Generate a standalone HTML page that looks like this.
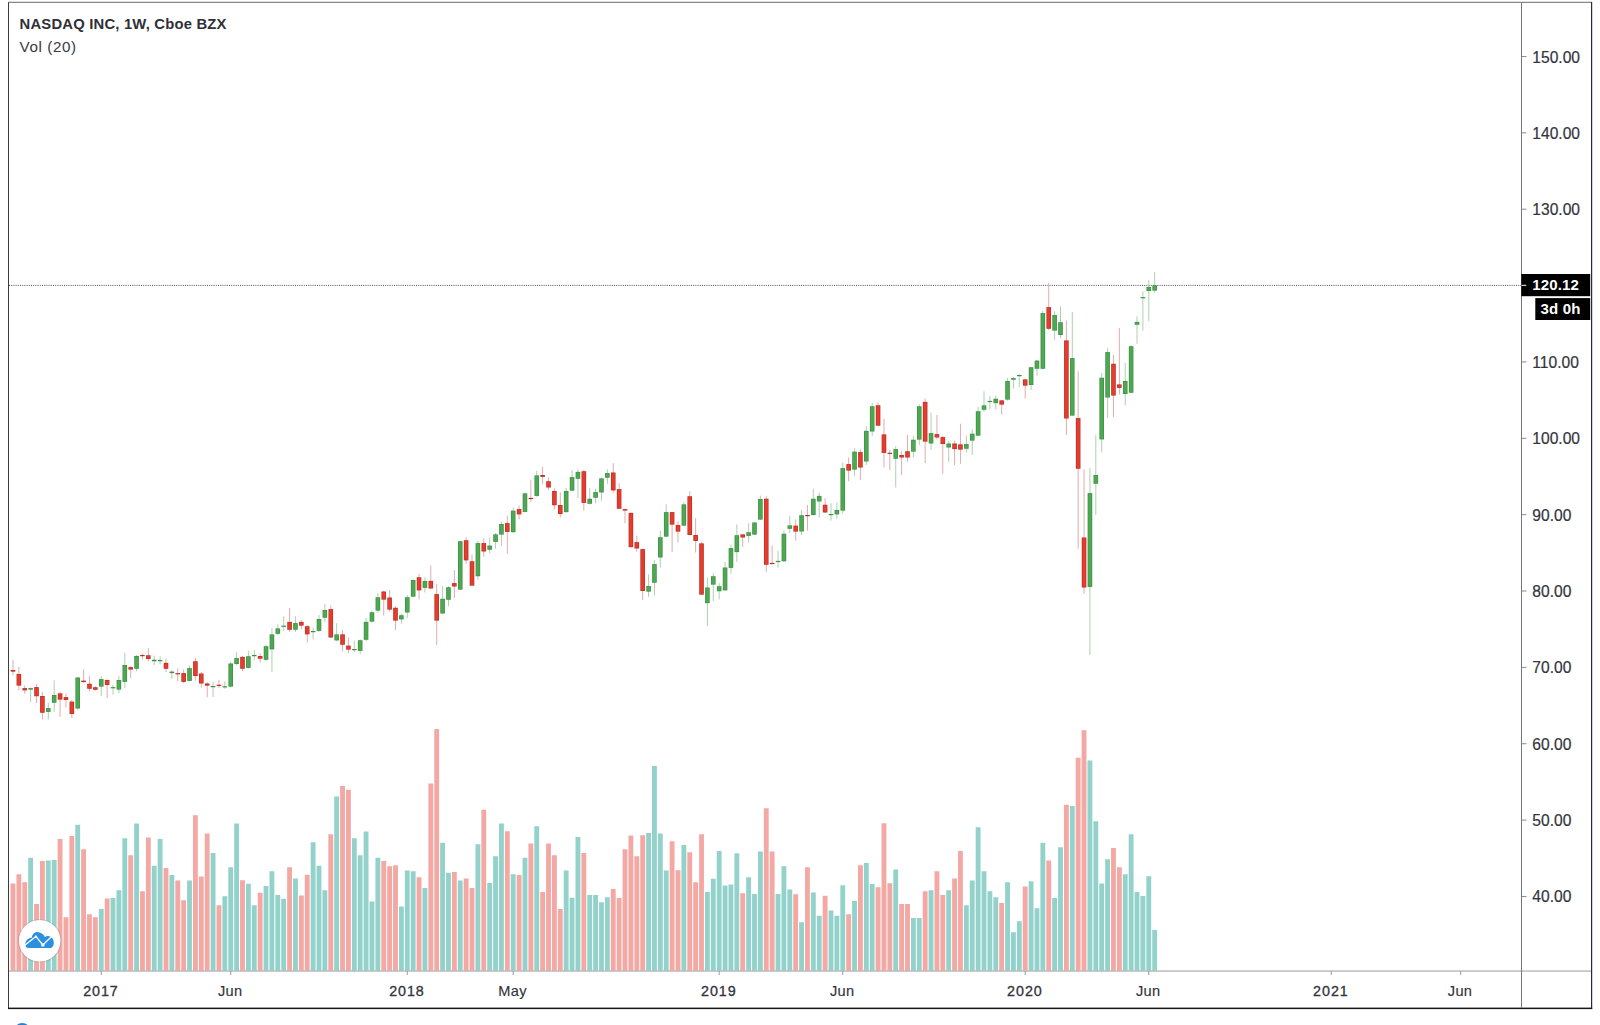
<!DOCTYPE html>
<html lang="en"><head><meta charset="utf-8"><title>NASDAQ INC, 1W, Cboe BZX</title>
<style>
html,body{margin:0;padding:0;background:#fff;}
body{width:1600px;height:1025px;overflow:hidden;position:relative;font-family:"Liberation Sans",sans-serif;}
svg{position:absolute;left:0;top:0;display:block;}
text{font-family:"Liberation Sans",sans-serif;}
.pl{font-size:15.6px;fill:#34343c;letter-spacing:0px;stroke:#34343c;stroke-width:0.2px;}
.tl{font-size:14.6px;fill:#33333b;text-anchor:middle;letter-spacing:0.3px;stroke:#33333b;stroke-width:0.15px;}
.yr{font-size:14.3px;stroke:#33333b;stroke-width:0.3px;letter-spacing:0.95px;}
.ttl{font-size:14.8px;font-weight:bold;fill:#2f3038;letter-spacing:0.2px;}
.sub{font-size:15.2px;fill:#3a3a42;letter-spacing:0.6px;}
.bx{font-size:15px;font-weight:bold;fill:#fff;letter-spacing:0.15px;}
</style></head><body>
<svg width="1600" height="1025" viewBox="0 0 1600 1025">
<rect x="0" y="0" width="1600" height="1025" fill="#ffffff"/>
<g id="volume">
<rect x="10.55" y="883.50" width="4.85" height="87.50" fill="#f4a8a4"/>
<rect x="16.43" y="874.25" width="4.85" height="96.75" fill="#f4a8a4"/>
<rect x="22.32" y="882.25" width="4.85" height="88.75" fill="#f4a8a4"/>
<rect x="28.21" y="857.75" width="4.85" height="113.25" fill="#92d2cb"/>
<rect x="34.09" y="904.00" width="4.85" height="67.00" fill="#f4a8a4"/>
<rect x="39.98" y="861.00" width="4.85" height="110.00" fill="#f4a8a4"/>
<rect x="45.86" y="860.50" width="4.85" height="110.50" fill="#92d2cb"/>
<rect x="51.75" y="860.00" width="4.85" height="111.00" fill="#92d2cb"/>
<rect x="57.63" y="839.00" width="4.85" height="132.00" fill="#f4a8a4"/>
<rect x="63.52" y="917.25" width="4.85" height="53.75" fill="#f4a8a4"/>
<rect x="69.40" y="836.00" width="4.85" height="135.00" fill="#f4a8a4"/>
<rect x="75.28" y="824.75" width="4.85" height="146.25" fill="#92d2cb"/>
<rect x="81.17" y="849.25" width="4.85" height="121.75" fill="#f4a8a4"/>
<rect x="87.05" y="914.25" width="4.85" height="56.75" fill="#f4a8a4"/>
<rect x="92.94" y="917.25" width="4.85" height="53.75" fill="#f4a8a4"/>
<rect x="98.82" y="909.00" width="4.85" height="62.00" fill="#92d2cb"/>
<rect x="104.71" y="898.50" width="4.85" height="72.50" fill="#f4a8a4"/>
<rect x="110.59" y="898.00" width="4.85" height="73.00" fill="#92d2cb"/>
<rect x="116.48" y="890.25" width="4.85" height="80.75" fill="#92d2cb"/>
<rect x="122.36" y="838.25" width="4.85" height="132.75" fill="#92d2cb"/>
<rect x="128.25" y="855.25" width="4.85" height="115.75" fill="#f4a8a4"/>
<rect x="134.13" y="823.50" width="4.85" height="147.50" fill="#92d2cb"/>
<rect x="140.02" y="891.25" width="4.85" height="79.75" fill="#f4a8a4"/>
<rect x="145.90" y="837.50" width="4.85" height="133.50" fill="#f4a8a4"/>
<rect x="151.79" y="865.75" width="4.85" height="105.25" fill="#92d2cb"/>
<rect x="157.67" y="839.00" width="4.85" height="132.00" fill="#92d2cb"/>
<rect x="163.56" y="868.00" width="4.85" height="103.00" fill="#f4a8a4"/>
<rect x="169.44" y="875.00" width="4.85" height="96.00" fill="#92d2cb"/>
<rect x="175.33" y="880.50" width="4.85" height="90.50" fill="#f4a8a4"/>
<rect x="181.21" y="900.25" width="4.85" height="70.75" fill="#f4a8a4"/>
<rect x="187.10" y="880.50" width="4.85" height="90.50" fill="#92d2cb"/>
<rect x="192.98" y="815.25" width="4.85" height="155.75" fill="#f4a8a4"/>
<rect x="198.87" y="876.50" width="4.85" height="94.50" fill="#f4a8a4"/>
<rect x="204.75" y="833.50" width="4.85" height="137.50" fill="#f4a8a4"/>
<rect x="210.64" y="853.00" width="4.85" height="118.00" fill="#92d2cb"/>
<rect x="216.52" y="905.25" width="4.85" height="65.75" fill="#f4a8a4"/>
<rect x="222.41" y="896.25" width="4.85" height="74.75" fill="#92d2cb"/>
<rect x="228.29" y="867.25" width="4.85" height="103.75" fill="#92d2cb"/>
<rect x="234.18" y="823.50" width="4.85" height="147.50" fill="#92d2cb"/>
<rect x="240.06" y="880.25" width="4.85" height="90.75" fill="#f4a8a4"/>
<rect x="245.95" y="883.75" width="4.85" height="87.25" fill="#92d2cb"/>
<rect x="251.83" y="905.25" width="4.85" height="65.75" fill="#92d2cb"/>
<rect x="257.72" y="892.75" width="4.85" height="78.25" fill="#f4a8a4"/>
<rect x="263.60" y="886.00" width="4.85" height="85.00" fill="#92d2cb"/>
<rect x="269.49" y="871.25" width="4.85" height="99.75" fill="#92d2cb"/>
<rect x="275.38" y="895.00" width="4.85" height="76.00" fill="#92d2cb"/>
<rect x="281.26" y="898.75" width="4.85" height="72.25" fill="#92d2cb"/>
<rect x="287.14" y="867.25" width="4.85" height="103.75" fill="#f4a8a4"/>
<rect x="293.03" y="878.50" width="4.85" height="92.50" fill="#92d2cb"/>
<rect x="298.92" y="895.50" width="4.85" height="75.50" fill="#f4a8a4"/>
<rect x="304.80" y="874.75" width="4.85" height="96.25" fill="#f4a8a4"/>
<rect x="310.69" y="842.25" width="4.85" height="128.75" fill="#92d2cb"/>
<rect x="316.57" y="865.75" width="4.85" height="105.25" fill="#92d2cb"/>
<rect x="322.45" y="890.25" width="4.85" height="80.75" fill="#92d2cb"/>
<rect x="328.34" y="834.25" width="4.85" height="136.75" fill="#f4a8a4"/>
<rect x="334.23" y="796.50" width="4.85" height="174.50" fill="#92d2cb"/>
<rect x="340.11" y="786.00" width="4.85" height="185.00" fill="#f4a8a4"/>
<rect x="346.00" y="789.75" width="4.85" height="181.25" fill="#f4a8a4"/>
<rect x="351.88" y="838.25" width="4.85" height="132.75" fill="#92d2cb"/>
<rect x="357.76" y="855.25" width="4.85" height="115.75" fill="#92d2cb"/>
<rect x="363.65" y="831.50" width="4.85" height="139.50" fill="#92d2cb"/>
<rect x="369.54" y="901.50" width="4.85" height="69.50" fill="#92d2cb"/>
<rect x="375.42" y="857.75" width="4.85" height="113.25" fill="#92d2cb"/>
<rect x="381.31" y="861.00" width="4.85" height="110.00" fill="#f4a8a4"/>
<rect x="387.19" y="866.25" width="4.85" height="104.75" fill="#f4a8a4"/>
<rect x="393.07" y="865.25" width="4.85" height="105.75" fill="#f4a8a4"/>
<rect x="398.96" y="906.50" width="4.85" height="64.50" fill="#92d2cb"/>
<rect x="404.84" y="870.50" width="4.85" height="100.50" fill="#92d2cb"/>
<rect x="410.73" y="871.25" width="4.85" height="99.75" fill="#92d2cb"/>
<rect x="416.62" y="877.25" width="4.85" height="93.75" fill="#f4a8a4"/>
<rect x="422.50" y="888.00" width="4.85" height="83.00" fill="#92d2cb"/>
<rect x="428.38" y="783.50" width="4.85" height="187.50" fill="#f4a8a4"/>
<rect x="434.27" y="729.00" width="4.85" height="242.00" fill="#f4a8a4"/>
<rect x="440.15" y="842.75" width="4.85" height="128.25" fill="#92d2cb"/>
<rect x="446.04" y="872.75" width="4.85" height="98.25" fill="#92d2cb"/>
<rect x="451.93" y="872.00" width="4.85" height="99.00" fill="#f4a8a4"/>
<rect x="457.81" y="880.50" width="4.85" height="90.50" fill="#92d2cb"/>
<rect x="463.69" y="878.50" width="4.85" height="92.50" fill="#f4a8a4"/>
<rect x="469.58" y="888.00" width="4.85" height="83.00" fill="#f4a8a4"/>
<rect x="475.46" y="844.25" width="4.85" height="126.75" fill="#92d2cb"/>
<rect x="481.35" y="809.75" width="4.85" height="161.25" fill="#f4a8a4"/>
<rect x="487.24" y="883.00" width="4.85" height="88.00" fill="#92d2cb"/>
<rect x="493.12" y="856.25" width="4.85" height="114.75" fill="#92d2cb"/>
<rect x="499.00" y="823.50" width="4.85" height="147.50" fill="#92d2cb"/>
<rect x="504.89" y="831.25" width="4.85" height="139.75" fill="#f4a8a4"/>
<rect x="510.77" y="874.25" width="4.85" height="96.75" fill="#92d2cb"/>
<rect x="516.66" y="875.00" width="4.85" height="96.00" fill="#f4a8a4"/>
<rect x="522.55" y="857.75" width="4.85" height="113.25" fill="#92d2cb"/>
<rect x="528.43" y="843.50" width="4.85" height="127.50" fill="#f4a8a4"/>
<rect x="534.32" y="826.25" width="4.85" height="144.75" fill="#92d2cb"/>
<rect x="540.20" y="892.00" width="4.85" height="79.00" fill="#f4a8a4"/>
<rect x="546.09" y="843.50" width="4.85" height="127.50" fill="#f4a8a4"/>
<rect x="551.97" y="855.25" width="4.85" height="115.75" fill="#f4a8a4"/>
<rect x="557.86" y="909.00" width="4.85" height="62.00" fill="#f4a8a4"/>
<rect x="563.74" y="870.50" width="4.85" height="100.50" fill="#92d2cb"/>
<rect x="569.62" y="897.75" width="4.85" height="73.25" fill="#92d2cb"/>
<rect x="575.51" y="837.00" width="4.85" height="134.00" fill="#92d2cb"/>
<rect x="581.40" y="853.00" width="4.85" height="118.00" fill="#f4a8a4"/>
<rect x="587.28" y="895.00" width="4.85" height="76.00" fill="#92d2cb"/>
<rect x="593.17" y="895.00" width="4.85" height="76.00" fill="#92d2cb"/>
<rect x="599.05" y="902.25" width="4.85" height="68.75" fill="#92d2cb"/>
<rect x="604.94" y="897.25" width="4.85" height="73.75" fill="#92d2cb"/>
<rect x="610.82" y="889.00" width="4.85" height="82.00" fill="#f4a8a4"/>
<rect x="616.71" y="898.00" width="4.85" height="73.00" fill="#f4a8a4"/>
<rect x="622.59" y="849.25" width="4.85" height="121.75" fill="#f4a8a4"/>
<rect x="628.48" y="835.50" width="4.85" height="135.50" fill="#f4a8a4"/>
<rect x="634.36" y="856.25" width="4.85" height="114.75" fill="#f4a8a4"/>
<rect x="640.25" y="835.25" width="4.85" height="135.75" fill="#f4a8a4"/>
<rect x="646.13" y="833.00" width="4.85" height="138.00" fill="#92d2cb"/>
<rect x="652.02" y="766.00" width="4.85" height="205.00" fill="#92d2cb"/>
<rect x="657.90" y="833.50" width="4.85" height="137.50" fill="#92d2cb"/>
<rect x="663.79" y="870.50" width="4.85" height="100.50" fill="#92d2cb"/>
<rect x="669.67" y="841.25" width="4.85" height="129.75" fill="#f4a8a4"/>
<rect x="675.56" y="870.25" width="4.85" height="100.75" fill="#f4a8a4"/>
<rect x="681.44" y="845.00" width="4.85" height="126.00" fill="#92d2cb"/>
<rect x="687.33" y="852.25" width="4.85" height="118.75" fill="#f4a8a4"/>
<rect x="693.21" y="882.25" width="4.85" height="88.75" fill="#f4a8a4"/>
<rect x="699.10" y="834.25" width="4.85" height="136.75" fill="#f4a8a4"/>
<rect x="704.98" y="892.00" width="4.85" height="79.00" fill="#92d2cb"/>
<rect x="710.87" y="878.75" width="4.85" height="92.25" fill="#92d2cb"/>
<rect x="716.75" y="851.00" width="4.85" height="120.00" fill="#92d2cb"/>
<rect x="722.63" y="885.50" width="4.85" height="85.50" fill="#92d2cb"/>
<rect x="728.52" y="884.50" width="4.85" height="86.50" fill="#92d2cb"/>
<rect x="734.41" y="853.25" width="4.85" height="117.75" fill="#92d2cb"/>
<rect x="740.29" y="893.25" width="4.85" height="77.75" fill="#f4a8a4"/>
<rect x="746.18" y="877.25" width="4.85" height="93.75" fill="#92d2cb"/>
<rect x="752.06" y="894.00" width="4.85" height="77.00" fill="#92d2cb"/>
<rect x="757.95" y="851.50" width="4.85" height="119.50" fill="#92d2cb"/>
<rect x="763.83" y="808.25" width="4.85" height="162.75" fill="#f4a8a4"/>
<rect x="769.72" y="851.50" width="4.85" height="119.50" fill="#f4a8a4"/>
<rect x="775.60" y="894.00" width="4.85" height="77.00" fill="#92d2cb"/>
<rect x="781.49" y="866.25" width="4.85" height="104.75" fill="#92d2cb"/>
<rect x="787.37" y="889.50" width="4.85" height="81.50" fill="#92d2cb"/>
<rect x="793.25" y="894.25" width="4.85" height="76.75" fill="#f4a8a4"/>
<rect x="799.14" y="922.25" width="4.85" height="48.75" fill="#92d2cb"/>
<rect x="805.03" y="867.25" width="4.85" height="103.75" fill="#f4a8a4"/>
<rect x="810.91" y="892.50" width="4.85" height="78.50" fill="#92d2cb"/>
<rect x="816.80" y="915.75" width="4.85" height="55.25" fill="#92d2cb"/>
<rect x="822.68" y="895.75" width="4.85" height="75.25" fill="#f4a8a4"/>
<rect x="828.57" y="910.50" width="4.85" height="60.50" fill="#92d2cb"/>
<rect x="834.45" y="915.75" width="4.85" height="55.25" fill="#92d2cb"/>
<rect x="840.34" y="885.25" width="4.85" height="85.75" fill="#92d2cb"/>
<rect x="846.22" y="914.25" width="4.85" height="56.75" fill="#f4a8a4"/>
<rect x="852.11" y="901.00" width="4.85" height="70.00" fill="#92d2cb"/>
<rect x="857.99" y="865.25" width="4.85" height="105.75" fill="#f4a8a4"/>
<rect x="863.88" y="863.00" width="4.85" height="108.00" fill="#92d2cb"/>
<rect x="869.76" y="884.00" width="4.85" height="87.00" fill="#92d2cb"/>
<rect x="875.64" y="887.25" width="4.85" height="83.75" fill="#f4a8a4"/>
<rect x="881.53" y="823.25" width="4.85" height="147.75" fill="#f4a8a4"/>
<rect x="887.42" y="883.25" width="4.85" height="87.75" fill="#f4a8a4"/>
<rect x="893.30" y="869.50" width="4.85" height="101.50" fill="#92d2cb"/>
<rect x="899.19" y="904.00" width="4.85" height="67.00" fill="#f4a8a4"/>
<rect x="905.07" y="904.00" width="4.85" height="67.00" fill="#f4a8a4"/>
<rect x="910.96" y="918.00" width="4.85" height="53.00" fill="#92d2cb"/>
<rect x="916.84" y="918.00" width="4.85" height="53.00" fill="#92d2cb"/>
<rect x="922.73" y="891.25" width="4.85" height="79.75" fill="#f4a8a4"/>
<rect x="928.61" y="890.25" width="4.85" height="80.75" fill="#92d2cb"/>
<rect x="934.50" y="871.25" width="4.85" height="99.75" fill="#f4a8a4"/>
<rect x="940.38" y="895.00" width="4.85" height="76.00" fill="#f4a8a4"/>
<rect x="946.26" y="890.25" width="4.85" height="80.75" fill="#92d2cb"/>
<rect x="952.15" y="878.50" width="4.85" height="92.50" fill="#f4a8a4"/>
<rect x="958.04" y="851.00" width="4.85" height="120.00" fill="#f4a8a4"/>
<rect x="963.92" y="905.25" width="4.85" height="65.75" fill="#92d2cb"/>
<rect x="969.81" y="880.50" width="4.85" height="90.50" fill="#92d2cb"/>
<rect x="975.69" y="827.25" width="4.85" height="143.75" fill="#92d2cb"/>
<rect x="981.58" y="871.25" width="4.85" height="99.75" fill="#92d2cb"/>
<rect x="987.46" y="891.25" width="4.85" height="79.75" fill="#92d2cb"/>
<rect x="993.35" y="897.25" width="4.85" height="73.75" fill="#92d2cb"/>
<rect x="999.23" y="903.00" width="4.85" height="68.00" fill="#f4a8a4"/>
<rect x="1005.12" y="882.25" width="4.85" height="88.75" fill="#92d2cb"/>
<rect x="1011.00" y="932.25" width="4.85" height="38.75" fill="#92d2cb"/>
<rect x="1016.88" y="921.25" width="4.85" height="49.75" fill="#92d2cb"/>
<rect x="1022.77" y="886.50" width="4.85" height="84.50" fill="#f4a8a4"/>
<rect x="1028.65" y="881.25" width="4.85" height="89.75" fill="#92d2cb"/>
<rect x="1034.54" y="908.25" width="4.85" height="62.75" fill="#92d2cb"/>
<rect x="1040.42" y="842.75" width="4.85" height="128.25" fill="#92d2cb"/>
<rect x="1046.31" y="860.50" width="4.85" height="110.50" fill="#f4a8a4"/>
<rect x="1052.19" y="898.00" width="4.85" height="73.00" fill="#92d2cb"/>
<rect x="1058.08" y="847.25" width="4.85" height="123.75" fill="#92d2cb"/>
<rect x="1063.96" y="804.75" width="4.85" height="166.25" fill="#f4a8a4"/>
<rect x="1069.85" y="806.00" width="4.85" height="165.00" fill="#92d2cb"/>
<rect x="1075.73" y="757.75" width="4.85" height="213.25" fill="#f4a8a4"/>
<rect x="1081.62" y="730.25" width="4.85" height="240.75" fill="#f4a8a4"/>
<rect x="1087.50" y="760.50" width="4.85" height="210.50" fill="#92d2cb"/>
<rect x="1093.39" y="821.25" width="4.85" height="149.75" fill="#92d2cb"/>
<rect x="1099.27" y="883.50" width="4.85" height="87.50" fill="#92d2cb"/>
<rect x="1105.16" y="859.25" width="4.85" height="111.75" fill="#92d2cb"/>
<rect x="1111.04" y="848.00" width="4.85" height="123.00" fill="#f4a8a4"/>
<rect x="1116.93" y="867.25" width="4.85" height="103.75" fill="#f4a8a4"/>
<rect x="1122.81" y="874.25" width="4.85" height="96.75" fill="#92d2cb"/>
<rect x="1128.70" y="834.25" width="4.85" height="136.75" fill="#92d2cb"/>
<rect x="1134.58" y="892.00" width="4.85" height="79.00" fill="#92d2cb"/>
<rect x="1140.47" y="896.00" width="4.85" height="75.00" fill="#92d2cb"/>
<rect x="1146.36" y="876.25" width="4.85" height="94.75" fill="#92d2cb"/>
<rect x="1152.24" y="930.00" width="4.85" height="41.00" fill="#92d2cb"/>
</g>
<rect x="9" y="970.3" width="1582" height="1.5" fill="#bdbdbd"/>
<line x1="9" y1="285.4" x2="1521" y2="285.4" stroke="#4a4a52" stroke-width="1" stroke-dasharray="1 1.2"/>
<g id="candles">
<rect x="12.47" y="659.75" width="1.0" height="15.25" fill="#e0adad"/>
<rect x="10.68" y="670.00" width="4.6" height="1.62" fill="#b9302a"/>
<rect x="18.36" y="666.88" width="1.0" height="23.75" fill="#e0adad"/>
<rect x="16.56" y="674.00" width="4.6" height="11.62" fill="#b9302a"/>
<rect x="17.26" y="674.70" width="3.20" height="10.22" fill="#e63c2b"/>
<rect x="24.24" y="685.62" width="1.0" height="8.12" fill="#e0adad"/>
<rect x="22.44" y="688.12" width="4.6" height="2.25" fill="#b9302a"/>
<rect x="23.14" y="688.83" width="3.20" height="0.85" fill="#e63c2b"/>
<rect x="30.13" y="687.50" width="1.0" height="14.38" fill="#afd0b0"/>
<rect x="28.33" y="688.12" width="4.6" height="1.50" fill="#3f8f48"/>
<rect x="36.02" y="683.75" width="1.0" height="19.38" fill="#e0adad"/>
<rect x="34.22" y="687.12" width="4.6" height="9.12" fill="#b9302a"/>
<rect x="34.92" y="687.83" width="3.20" height="7.72" fill="#e63c2b"/>
<rect x="41.90" y="691.88" width="1.0" height="27.50" fill="#e0adad"/>
<rect x="40.10" y="696.00" width="4.6" height="16.75" fill="#b9302a"/>
<rect x="40.80" y="696.70" width="3.20" height="15.35" fill="#e63c2b"/>
<rect x="47.79" y="702.50" width="1.0" height="16.88" fill="#afd0b0"/>
<rect x="45.99" y="708.12" width="4.6" height="3.75" fill="#3f8f48"/>
<rect x="46.69" y="708.83" width="3.20" height="2.35" fill="#4ca851"/>
<rect x="53.67" y="680.38" width="1.0" height="31.50" fill="#afd0b0"/>
<rect x="51.87" y="695.00" width="4.6" height="7.75" fill="#3f8f48"/>
<rect x="52.57" y="695.70" width="3.20" height="6.35" fill="#4ca851"/>
<rect x="59.55" y="691.88" width="1.0" height="25.00" fill="#e0adad"/>
<rect x="57.76" y="693.38" width="4.6" height="6.25" fill="#b9302a"/>
<rect x="58.46" y="694.08" width="3.20" height="4.85" fill="#e63c2b"/>
<rect x="65.44" y="693.75" width="1.0" height="13.75" fill="#e0adad"/>
<rect x="63.64" y="697.12" width="4.6" height="2.88" fill="#b9302a"/>
<rect x="64.34" y="697.83" width="3.20" height="1.48" fill="#e63c2b"/>
<rect x="71.32" y="700.00" width="1.0" height="18.12" fill="#e0adad"/>
<rect x="69.52" y="701.62" width="4.6" height="12.38" fill="#b9302a"/>
<rect x="70.22" y="702.33" width="3.20" height="10.97" fill="#e63c2b"/>
<rect x="77.21" y="676.88" width="1.0" height="33.12" fill="#afd0b0"/>
<rect x="75.41" y="677.50" width="4.6" height="31.00" fill="#3f8f48"/>
<rect x="76.11" y="678.20" width="3.20" height="29.60" fill="#4ca851"/>
<rect x="83.09" y="669.38" width="1.0" height="13.12" fill="#e0adad"/>
<rect x="81.30" y="680.62" width="4.6" height="1.50" fill="#b9302a"/>
<rect x="88.98" y="676.25" width="1.0" height="15.00" fill="#e0adad"/>
<rect x="87.18" y="683.75" width="4.6" height="5.00" fill="#b9302a"/>
<rect x="87.88" y="684.45" width="3.20" height="3.60" fill="#e63c2b"/>
<rect x="94.86" y="686.25" width="1.0" height="4.38" fill="#e0adad"/>
<rect x="93.06" y="687.25" width="4.6" height="2.50" fill="#b9302a"/>
<rect x="93.77" y="687.95" width="3.20" height="1.10" fill="#e63c2b"/>
<rect x="100.75" y="676.25" width="1.0" height="19.75" fill="#afd0b0"/>
<rect x="98.95" y="679.12" width="4.6" height="7.50" fill="#3f8f48"/>
<rect x="99.65" y="679.83" width="3.20" height="6.10" fill="#4ca851"/>
<rect x="106.63" y="679.38" width="1.0" height="18.75" fill="#e0adad"/>
<rect x="104.83" y="680.00" width="4.6" height="5.00" fill="#b9302a"/>
<rect x="105.53" y="680.70" width="3.20" height="3.60" fill="#e63c2b"/>
<rect x="112.52" y="685.00" width="1.0" height="9.62" fill="#afd0b0"/>
<rect x="110.72" y="687.12" width="4.6" height="1.20" fill="#3f8f48"/>
<rect x="118.40" y="675.62" width="1.0" height="17.50" fill="#afd0b0"/>
<rect x="116.60" y="680.00" width="4.6" height="9.62" fill="#3f8f48"/>
<rect x="117.30" y="680.70" width="3.20" height="8.22" fill="#4ca851"/>
<rect x="124.29" y="652.75" width="1.0" height="35.38" fill="#afd0b0"/>
<rect x="122.49" y="665.00" width="4.6" height="16.88" fill="#3f8f48"/>
<rect x="123.19" y="665.70" width="3.20" height="15.47" fill="#4ca851"/>
<rect x="130.17" y="666.25" width="1.0" height="11.88" fill="#e0adad"/>
<rect x="128.37" y="667.12" width="4.6" height="2.50" fill="#b9302a"/>
<rect x="129.07" y="667.83" width="3.20" height="1.10" fill="#e63c2b"/>
<rect x="136.06" y="655.00" width="1.0" height="16.25" fill="#afd0b0"/>
<rect x="134.26" y="656.00" width="4.6" height="12.75" fill="#3f8f48"/>
<rect x="134.96" y="656.70" width="3.20" height="11.35" fill="#4ca851"/>
<rect x="141.94" y="653.75" width="1.0" height="5.62" fill="#e0adad"/>
<rect x="140.14" y="655.00" width="4.6" height="1.20" fill="#b9302a"/>
<rect x="147.83" y="648.12" width="1.0" height="13.12" fill="#e0adad"/>
<rect x="146.03" y="655.25" width="4.6" height="3.75" fill="#b9302a"/>
<rect x="146.73" y="655.95" width="3.20" height="2.35" fill="#e63c2b"/>
<rect x="153.72" y="655.62" width="1.0" height="9.38" fill="#afd0b0"/>
<rect x="151.91" y="659.75" width="4.6" height="1.50" fill="#3f8f48"/>
<rect x="159.60" y="656.25" width="1.0" height="8.12" fill="#afd0b0"/>
<rect x="157.80" y="660.00" width="4.6" height="1.20" fill="#3f8f48"/>
<rect x="165.48" y="658.75" width="1.0" height="13.12" fill="#e0adad"/>
<rect x="163.68" y="662.88" width="4.6" height="5.88" fill="#b9302a"/>
<rect x="164.38" y="663.58" width="3.20" height="4.47" fill="#e63c2b"/>
<rect x="171.37" y="670.00" width="1.0" height="8.75" fill="#afd0b0"/>
<rect x="169.57" y="671.62" width="4.6" height="1.50" fill="#3f8f48"/>
<rect x="177.25" y="668.12" width="1.0" height="13.12" fill="#e0adad"/>
<rect x="175.45" y="673.12" width="4.6" height="1.20" fill="#b9302a"/>
<rect x="183.14" y="669.38" width="1.0" height="13.75" fill="#e0adad"/>
<rect x="181.34" y="673.12" width="4.6" height="8.75" fill="#b9302a"/>
<rect x="182.04" y="673.83" width="3.20" height="7.35" fill="#e63c2b"/>
<rect x="189.02" y="665.62" width="1.0" height="15.62" fill="#afd0b0"/>
<rect x="187.22" y="668.12" width="4.6" height="12.75" fill="#3f8f48"/>
<rect x="187.92" y="668.83" width="3.20" height="11.35" fill="#4ca851"/>
<rect x="194.91" y="657.50" width="1.0" height="23.12" fill="#e0adad"/>
<rect x="193.11" y="661.25" width="4.6" height="14.75" fill="#b9302a"/>
<rect x="193.81" y="661.95" width="3.20" height="13.35" fill="#e63c2b"/>
<rect x="200.79" y="671.88" width="1.0" height="15.62" fill="#e0adad"/>
<rect x="198.99" y="673.50" width="4.6" height="10.00" fill="#b9302a"/>
<rect x="199.69" y="674.20" width="3.20" height="8.60" fill="#e63c2b"/>
<rect x="206.68" y="681.88" width="1.0" height="15.62" fill="#e0adad"/>
<rect x="204.88" y="683.50" width="4.6" height="2.12" fill="#b9302a"/>
<rect x="212.56" y="681.88" width="1.0" height="15.12" fill="#afd0b0"/>
<rect x="210.76" y="686.00" width="4.6" height="1.20" fill="#3f8f48"/>
<rect x="218.45" y="680.00" width="1.0" height="8.12" fill="#e0adad"/>
<rect x="216.65" y="684.75" width="4.6" height="1.20" fill="#b9302a"/>
<rect x="224.33" y="681.25" width="1.0" height="7.50" fill="#afd0b0"/>
<rect x="222.53" y="686.25" width="4.6" height="1.20" fill="#3f8f48"/>
<rect x="230.22" y="661.88" width="1.0" height="25.38" fill="#afd0b0"/>
<rect x="228.42" y="663.50" width="4.6" height="23.12" fill="#3f8f48"/>
<rect x="229.12" y="664.20" width="3.20" height="21.73" fill="#4ca851"/>
<rect x="236.10" y="651.88" width="1.0" height="13.12" fill="#afd0b0"/>
<rect x="234.30" y="658.12" width="4.6" height="5.88" fill="#3f8f48"/>
<rect x="235.00" y="658.83" width="3.20" height="4.47" fill="#4ca851"/>
<rect x="241.99" y="656.00" width="1.0" height="15.25" fill="#e0adad"/>
<rect x="240.19" y="656.88" width="4.6" height="11.88" fill="#b9302a"/>
<rect x="240.89" y="657.58" width="3.20" height="10.47" fill="#e63c2b"/>
<rect x="247.87" y="650.62" width="1.0" height="18.12" fill="#afd0b0"/>
<rect x="246.07" y="656.25" width="4.6" height="11.62" fill="#3f8f48"/>
<rect x="246.77" y="656.95" width="3.20" height="10.22" fill="#4ca851"/>
<rect x="253.76" y="650.00" width="1.0" height="10.62" fill="#afd0b0"/>
<rect x="251.96" y="655.00" width="4.6" height="1.20" fill="#3f8f48"/>
<rect x="259.64" y="653.12" width="1.0" height="9.38" fill="#e0adad"/>
<rect x="257.84" y="656.00" width="4.6" height="2.75" fill="#b9302a"/>
<rect x="258.54" y="656.70" width="3.20" height="1.35" fill="#e63c2b"/>
<rect x="265.53" y="645.00" width="1.0" height="16.25" fill="#afd0b0"/>
<rect x="263.73" y="646.25" width="4.6" height="13.50" fill="#3f8f48"/>
<rect x="264.43" y="646.95" width="3.20" height="12.10" fill="#4ca851"/>
<rect x="271.42" y="628.12" width="1.0" height="43.75" fill="#afd0b0"/>
<rect x="269.62" y="634.38" width="4.6" height="15.00" fill="#3f8f48"/>
<rect x="270.31" y="635.08" width="3.20" height="13.60" fill="#4ca851"/>
<rect x="277.30" y="624.38" width="1.0" height="10.62" fill="#afd0b0"/>
<rect x="275.50" y="628.38" width="4.6" height="5.38" fill="#3f8f48"/>
<rect x="276.20" y="629.08" width="3.20" height="3.98" fill="#4ca851"/>
<rect x="283.19" y="616.25" width="1.0" height="15.00" fill="#afd0b0"/>
<rect x="281.38" y="625.62" width="4.6" height="1.20" fill="#3f8f48"/>
<rect x="289.07" y="608.12" width="1.0" height="23.75" fill="#e0adad"/>
<rect x="287.27" y="621.88" width="4.6" height="7.88" fill="#b9302a"/>
<rect x="287.97" y="622.58" width="3.20" height="6.47" fill="#e63c2b"/>
<rect x="294.96" y="616.25" width="1.0" height="15.62" fill="#afd0b0"/>
<rect x="293.16" y="623.12" width="4.6" height="6.62" fill="#3f8f48"/>
<rect x="293.86" y="623.83" width="3.20" height="5.22" fill="#4ca851"/>
<rect x="300.84" y="620.00" width="1.0" height="9.38" fill="#e0adad"/>
<rect x="299.04" y="621.88" width="4.6" height="3.75" fill="#b9302a"/>
<rect x="299.74" y="622.58" width="3.20" height="2.35" fill="#e63c2b"/>
<rect x="306.73" y="625.00" width="1.0" height="17.50" fill="#e0adad"/>
<rect x="304.93" y="626.25" width="4.6" height="8.12" fill="#b9302a"/>
<rect x="305.62" y="626.95" width="3.20" height="6.72" fill="#e63c2b"/>
<rect x="312.61" y="627.50" width="1.0" height="11.88" fill="#afd0b0"/>
<rect x="310.81" y="631.00" width="4.6" height="1.20" fill="#3f8f48"/>
<rect x="318.50" y="615.00" width="1.0" height="16.88" fill="#afd0b0"/>
<rect x="316.69" y="619.00" width="4.6" height="11.88" fill="#3f8f48"/>
<rect x="317.39" y="619.70" width="3.20" height="10.47" fill="#4ca851"/>
<rect x="324.38" y="603.75" width="1.0" height="18.75" fill="#afd0b0"/>
<rect x="322.58" y="610.00" width="4.6" height="7.75" fill="#3f8f48"/>
<rect x="323.28" y="610.70" width="3.20" height="6.35" fill="#4ca851"/>
<rect x="330.26" y="605.62" width="1.0" height="32.50" fill="#e0adad"/>
<rect x="328.46" y="609.12" width="4.6" height="28.38" fill="#b9302a"/>
<rect x="329.16" y="609.83" width="3.20" height="26.98" fill="#e63c2b"/>
<rect x="336.15" y="623.12" width="1.0" height="18.12" fill="#afd0b0"/>
<rect x="334.35" y="634.38" width="4.6" height="6.00" fill="#3f8f48"/>
<rect x="335.05" y="635.08" width="3.20" height="4.60" fill="#4ca851"/>
<rect x="342.04" y="630.00" width="1.0" height="21.25" fill="#e0adad"/>
<rect x="340.24" y="634.38" width="4.6" height="10.38" fill="#b9302a"/>
<rect x="340.94" y="635.08" width="3.20" height="8.97" fill="#e63c2b"/>
<rect x="347.92" y="637.50" width="1.0" height="15.62" fill="#e0adad"/>
<rect x="346.12" y="645.62" width="4.6" height="4.00" fill="#b9302a"/>
<rect x="346.82" y="646.33" width="3.20" height="2.60" fill="#e63c2b"/>
<rect x="353.81" y="640.62" width="1.0" height="11.88" fill="#afd0b0"/>
<rect x="352.00" y="649.00" width="4.6" height="1.20" fill="#3f8f48"/>
<rect x="359.69" y="639.38" width="1.0" height="15.00" fill="#afd0b0"/>
<rect x="357.89" y="640.25" width="4.6" height="10.62" fill="#3f8f48"/>
<rect x="358.59" y="640.95" width="3.20" height="9.22" fill="#4ca851"/>
<rect x="365.57" y="618.12" width="1.0" height="23.12" fill="#afd0b0"/>
<rect x="363.77" y="621.88" width="4.6" height="17.88" fill="#3f8f48"/>
<rect x="364.47" y="622.58" width="3.20" height="16.48" fill="#4ca851"/>
<rect x="371.46" y="610.62" width="1.0" height="11.88" fill="#afd0b0"/>
<rect x="369.66" y="612.25" width="4.6" height="9.38" fill="#3f8f48"/>
<rect x="370.36" y="612.95" width="3.20" height="7.97" fill="#4ca851"/>
<rect x="377.35" y="593.12" width="1.0" height="20.00" fill="#afd0b0"/>
<rect x="375.55" y="597.25" width="4.6" height="13.38" fill="#3f8f48"/>
<rect x="376.25" y="597.95" width="3.20" height="11.97" fill="#4ca851"/>
<rect x="383.23" y="590.62" width="1.0" height="25.00" fill="#e0adad"/>
<rect x="381.43" y="591.50" width="4.6" height="8.12" fill="#b9302a"/>
<rect x="382.13" y="592.20" width="3.20" height="6.72" fill="#e63c2b"/>
<rect x="389.12" y="590.00" width="1.0" height="21.25" fill="#e0adad"/>
<rect x="387.31" y="597.50" width="4.6" height="12.12" fill="#b9302a"/>
<rect x="388.01" y="598.20" width="3.20" height="10.72" fill="#e63c2b"/>
<rect x="395.00" y="606.25" width="1.0" height="23.75" fill="#e0adad"/>
<rect x="393.20" y="607.75" width="4.6" height="12.88" fill="#b9302a"/>
<rect x="393.90" y="608.45" width="3.20" height="11.47" fill="#e63c2b"/>
<rect x="400.88" y="613.75" width="1.0" height="10.00" fill="#afd0b0"/>
<rect x="399.08" y="615.25" width="4.6" height="4.12" fill="#3f8f48"/>
<rect x="399.78" y="615.95" width="3.20" height="2.73" fill="#4ca851"/>
<rect x="406.77" y="595.00" width="1.0" height="23.12" fill="#afd0b0"/>
<rect x="404.97" y="597.25" width="4.6" height="15.25" fill="#3f8f48"/>
<rect x="405.67" y="597.95" width="3.20" height="13.85" fill="#4ca851"/>
<rect x="412.66" y="579.38" width="1.0" height="18.12" fill="#afd0b0"/>
<rect x="410.86" y="580.00" width="4.6" height="16.62" fill="#3f8f48"/>
<rect x="411.56" y="580.70" width="3.20" height="15.22" fill="#4ca851"/>
<rect x="418.54" y="573.75" width="1.0" height="25.62" fill="#e0adad"/>
<rect x="416.74" y="577.25" width="4.6" height="13.12" fill="#b9302a"/>
<rect x="417.44" y="577.95" width="3.20" height="11.72" fill="#e63c2b"/>
<rect x="424.43" y="577.25" width="1.0" height="15.25" fill="#afd0b0"/>
<rect x="422.62" y="581.00" width="4.6" height="6.88" fill="#3f8f48"/>
<rect x="423.32" y="581.70" width="3.20" height="5.47" fill="#4ca851"/>
<rect x="430.31" y="565.62" width="1.0" height="23.75" fill="#e0adad"/>
<rect x="428.51" y="580.88" width="4.6" height="7.62" fill="#b9302a"/>
<rect x="429.21" y="581.58" width="3.20" height="6.22" fill="#e63c2b"/>
<rect x="436.19" y="583.75" width="1.0" height="61.25" fill="#e0adad"/>
<rect x="434.39" y="594.12" width="4.6" height="26.50" fill="#b9302a"/>
<rect x="435.09" y="594.83" width="3.20" height="25.10" fill="#e63c2b"/>
<rect x="442.08" y="586.25" width="1.0" height="28.12" fill="#afd0b0"/>
<rect x="440.28" y="598.75" width="4.6" height="14.75" fill="#3f8f48"/>
<rect x="440.98" y="599.45" width="3.20" height="13.35" fill="#4ca851"/>
<rect x="447.97" y="586.25" width="1.0" height="20.00" fill="#afd0b0"/>
<rect x="446.17" y="587.25" width="4.6" height="12.50" fill="#3f8f48"/>
<rect x="446.87" y="587.95" width="3.20" height="11.10" fill="#4ca851"/>
<rect x="453.85" y="570.00" width="1.0" height="28.12" fill="#e0adad"/>
<rect x="452.05" y="583.12" width="4.6" height="3.38" fill="#b9302a"/>
<rect x="452.75" y="583.83" width="3.20" height="1.98" fill="#e63c2b"/>
<rect x="459.74" y="540.62" width="1.0" height="49.38" fill="#afd0b0"/>
<rect x="457.94" y="541.25" width="4.6" height="48.38" fill="#3f8f48"/>
<rect x="458.63" y="541.95" width="3.20" height="46.98" fill="#4ca851"/>
<rect x="465.62" y="537.50" width="1.0" height="26.25" fill="#e0adad"/>
<rect x="463.82" y="540.25" width="4.6" height="20.12" fill="#b9302a"/>
<rect x="464.52" y="540.95" width="3.20" height="18.73" fill="#e63c2b"/>
<rect x="471.50" y="554.38" width="1.0" height="31.88" fill="#e0adad"/>
<rect x="469.70" y="561.25" width="4.6" height="24.38" fill="#b9302a"/>
<rect x="470.40" y="561.95" width="3.20" height="22.98" fill="#e63c2b"/>
<rect x="477.39" y="540.62" width="1.0" height="39.38" fill="#afd0b0"/>
<rect x="475.59" y="543.12" width="4.6" height="33.12" fill="#3f8f48"/>
<rect x="476.29" y="543.83" width="3.20" height="31.73" fill="#4ca851"/>
<rect x="483.27" y="538.12" width="1.0" height="18.75" fill="#e0adad"/>
<rect x="481.47" y="543.12" width="4.6" height="8.38" fill="#b9302a"/>
<rect x="482.17" y="543.83" width="3.20" height="6.97" fill="#e63c2b"/>
<rect x="489.16" y="537.50" width="1.0" height="15.62" fill="#afd0b0"/>
<rect x="487.36" y="545.62" width="4.6" height="4.12" fill="#3f8f48"/>
<rect x="488.06" y="546.33" width="3.20" height="2.73" fill="#4ca851"/>
<rect x="495.05" y="533.12" width="1.0" height="15.62" fill="#afd0b0"/>
<rect x="493.25" y="534.38" width="4.6" height="7.50" fill="#3f8f48"/>
<rect x="493.94" y="535.08" width="3.20" height="6.10" fill="#4ca851"/>
<rect x="500.93" y="521.88" width="1.0" height="24.38" fill="#afd0b0"/>
<rect x="499.13" y="524.00" width="4.6" height="10.62" fill="#3f8f48"/>
<rect x="499.83" y="524.70" width="3.20" height="9.22" fill="#4ca851"/>
<rect x="506.81" y="515.62" width="1.0" height="38.12" fill="#e0adad"/>
<rect x="505.01" y="523.12" width="4.6" height="8.75" fill="#b9302a"/>
<rect x="505.71" y="523.83" width="3.20" height="7.35" fill="#e63c2b"/>
<rect x="512.70" y="507.50" width="1.0" height="25.62" fill="#afd0b0"/>
<rect x="510.90" y="510.62" width="4.6" height="21.50" fill="#3f8f48"/>
<rect x="511.60" y="511.32" width="3.20" height="20.10" fill="#4ca851"/>
<rect x="518.58" y="505.62" width="1.0" height="13.75" fill="#e0adad"/>
<rect x="516.78" y="509.12" width="4.6" height="5.25" fill="#b9302a"/>
<rect x="517.49" y="509.82" width="3.20" height="3.85" fill="#e63c2b"/>
<rect x="524.47" y="492.50" width="1.0" height="20.00" fill="#afd0b0"/>
<rect x="522.67" y="493.38" width="4.6" height="18.50" fill="#3f8f48"/>
<rect x="523.37" y="494.07" width="3.20" height="17.10" fill="#4ca851"/>
<rect x="530.36" y="480.00" width="1.0" height="21.88" fill="#e0adad"/>
<rect x="528.56" y="497.88" width="4.6" height="1.20" fill="#b9302a"/>
<rect x="536.24" y="470.62" width="1.0" height="26.25" fill="#afd0b0"/>
<rect x="534.44" y="475.38" width="4.6" height="20.50" fill="#3f8f48"/>
<rect x="535.14" y="476.07" width="3.20" height="19.10" fill="#4ca851"/>
<rect x="542.12" y="466.88" width="1.0" height="16.88" fill="#e0adad"/>
<rect x="540.33" y="475.00" width="4.6" height="1.88" fill="#b9302a"/>
<rect x="548.01" y="477.50" width="1.0" height="12.50" fill="#e0adad"/>
<rect x="546.21" y="481.25" width="4.6" height="6.25" fill="#b9302a"/>
<rect x="546.91" y="481.95" width="3.20" height="4.85" fill="#e63c2b"/>
<rect x="553.89" y="488.12" width="1.0" height="21.25" fill="#e0adad"/>
<rect x="552.10" y="491.00" width="4.6" height="14.25" fill="#b9302a"/>
<rect x="552.80" y="491.70" width="3.20" height="12.85" fill="#e63c2b"/>
<rect x="559.78" y="492.50" width="1.0" height="25.00" fill="#e0adad"/>
<rect x="557.98" y="505.00" width="4.6" height="9.00" fill="#b9302a"/>
<rect x="558.68" y="505.70" width="3.20" height="7.60" fill="#e63c2b"/>
<rect x="565.66" y="488.12" width="1.0" height="24.38" fill="#afd0b0"/>
<rect x="563.87" y="491.00" width="4.6" height="21.12" fill="#3f8f48"/>
<rect x="564.57" y="491.70" width="3.20" height="19.73" fill="#4ca851"/>
<rect x="571.55" y="470.00" width="1.0" height="21.25" fill="#afd0b0"/>
<rect x="569.75" y="477.12" width="4.6" height="13.50" fill="#3f8f48"/>
<rect x="570.45" y="477.82" width="3.20" height="12.10" fill="#4ca851"/>
<rect x="577.44" y="469.38" width="1.0" height="28.75" fill="#afd0b0"/>
<rect x="575.64" y="471.88" width="4.6" height="6.88" fill="#3f8f48"/>
<rect x="576.34" y="472.57" width="3.20" height="5.47" fill="#4ca851"/>
<rect x="583.32" y="470.00" width="1.0" height="40.62" fill="#e0adad"/>
<rect x="581.52" y="471.25" width="4.6" height="31.62" fill="#b9302a"/>
<rect x="582.22" y="471.95" width="3.20" height="30.23" fill="#e63c2b"/>
<rect x="589.21" y="488.12" width="1.0" height="16.25" fill="#afd0b0"/>
<rect x="587.41" y="498.75" width="4.6" height="5.00" fill="#3f8f48"/>
<rect x="588.11" y="499.45" width="3.20" height="3.60" fill="#4ca851"/>
<rect x="595.09" y="488.75" width="1.0" height="14.38" fill="#afd0b0"/>
<rect x="593.29" y="492.12" width="4.6" height="5.62" fill="#3f8f48"/>
<rect x="593.99" y="492.82" width="3.20" height="4.22" fill="#4ca851"/>
<rect x="600.98" y="477.50" width="1.0" height="23.12" fill="#afd0b0"/>
<rect x="599.18" y="478.38" width="4.6" height="14.12" fill="#3f8f48"/>
<rect x="599.88" y="479.07" width="3.20" height="12.72" fill="#4ca851"/>
<rect x="606.86" y="469.38" width="1.0" height="14.38" fill="#afd0b0"/>
<rect x="605.06" y="473.12" width="4.6" height="4.62" fill="#3f8f48"/>
<rect x="605.76" y="473.82" width="3.20" height="3.23" fill="#4ca851"/>
<rect x="612.75" y="463.12" width="1.0" height="30.00" fill="#e0adad"/>
<rect x="610.95" y="472.50" width="4.6" height="17.88" fill="#b9302a"/>
<rect x="611.65" y="473.20" width="3.20" height="16.48" fill="#e63c2b"/>
<rect x="618.63" y="483.12" width="1.0" height="26.25" fill="#e0adad"/>
<rect x="616.83" y="489.12" width="4.6" height="19.62" fill="#b9302a"/>
<rect x="617.53" y="489.82" width="3.20" height="18.23" fill="#e63c2b"/>
<rect x="624.51" y="508.75" width="1.0" height="14.38" fill="#e0adad"/>
<rect x="622.72" y="509.12" width="4.6" height="1.50" fill="#b9302a"/>
<rect x="630.40" y="512.50" width="1.0" height="35.00" fill="#e0adad"/>
<rect x="628.60" y="512.88" width="4.6" height="34.25" fill="#b9302a"/>
<rect x="629.30" y="513.58" width="3.20" height="32.85" fill="#e63c2b"/>
<rect x="636.28" y="535.62" width="1.0" height="16.25" fill="#e0adad"/>
<rect x="634.49" y="542.12" width="4.6" height="6.38" fill="#b9302a"/>
<rect x="635.19" y="542.83" width="3.20" height="4.97" fill="#e63c2b"/>
<rect x="642.17" y="548.75" width="1.0" height="51.25" fill="#e0adad"/>
<rect x="640.37" y="549.12" width="4.6" height="41.88" fill="#b9302a"/>
<rect x="641.07" y="549.83" width="3.20" height="40.48" fill="#e63c2b"/>
<rect x="648.05" y="574.38" width="1.0" height="22.50" fill="#afd0b0"/>
<rect x="646.25" y="586.00" width="4.6" height="5.62" fill="#3f8f48"/>
<rect x="646.96" y="586.70" width="3.20" height="4.22" fill="#4ca851"/>
<rect x="653.94" y="560.00" width="1.0" height="35.62" fill="#afd0b0"/>
<rect x="652.14" y="564.12" width="4.6" height="18.62" fill="#3f8f48"/>
<rect x="652.84" y="564.83" width="3.20" height="17.23" fill="#4ca851"/>
<rect x="659.83" y="530.62" width="1.0" height="36.88" fill="#afd0b0"/>
<rect x="658.03" y="537.25" width="4.6" height="20.25" fill="#3f8f48"/>
<rect x="658.73" y="537.95" width="3.20" height="18.85" fill="#4ca851"/>
<rect x="665.71" y="504.38" width="1.0" height="32.50" fill="#afd0b0"/>
<rect x="663.91" y="512.12" width="4.6" height="24.50" fill="#3f8f48"/>
<rect x="664.61" y="512.83" width="3.20" height="23.10" fill="#4ca851"/>
<rect x="671.60" y="511.88" width="1.0" height="40.00" fill="#e0adad"/>
<rect x="669.80" y="512.12" width="4.6" height="12.50" fill="#b9302a"/>
<rect x="670.50" y="512.83" width="3.20" height="11.10" fill="#e63c2b"/>
<rect x="677.48" y="521.25" width="1.0" height="21.25" fill="#e0adad"/>
<rect x="675.68" y="525.00" width="4.6" height="6.62" fill="#b9302a"/>
<rect x="676.38" y="525.70" width="3.20" height="5.22" fill="#e63c2b"/>
<rect x="683.37" y="501.88" width="1.0" height="24.38" fill="#afd0b0"/>
<rect x="681.57" y="504.38" width="4.6" height="21.25" fill="#3f8f48"/>
<rect x="682.27" y="505.07" width="3.20" height="19.85" fill="#4ca851"/>
<rect x="689.25" y="491.25" width="1.0" height="44.38" fill="#e0adad"/>
<rect x="687.45" y="496.25" width="4.6" height="38.75" fill="#b9302a"/>
<rect x="688.15" y="496.95" width="3.20" height="37.35" fill="#e63c2b"/>
<rect x="695.13" y="518.12" width="1.0" height="34.38" fill="#e0adad"/>
<rect x="693.34" y="535.00" width="4.6" height="6.00" fill="#b9302a"/>
<rect x="694.04" y="535.70" width="3.20" height="4.60" fill="#e63c2b"/>
<rect x="701.02" y="541.88" width="1.0" height="53.12" fill="#e0adad"/>
<rect x="699.22" y="543.38" width="4.6" height="51.25" fill="#b9302a"/>
<rect x="699.92" y="544.08" width="3.20" height="49.85" fill="#e63c2b"/>
<rect x="706.90" y="577.50" width="1.0" height="48.75" fill="#afd0b0"/>
<rect x="705.11" y="587.50" width="4.6" height="15.62" fill="#3f8f48"/>
<rect x="705.81" y="588.20" width="3.20" height="14.22" fill="#4ca851"/>
<rect x="712.79" y="573.12" width="1.0" height="28.12" fill="#afd0b0"/>
<rect x="710.99" y="576.25" width="4.6" height="8.38" fill="#3f8f48"/>
<rect x="711.69" y="576.95" width="3.20" height="6.97" fill="#4ca851"/>
<rect x="718.67" y="583.12" width="1.0" height="16.25" fill="#afd0b0"/>
<rect x="716.88" y="586.25" width="4.6" height="5.00" fill="#3f8f48"/>
<rect x="717.58" y="586.95" width="3.20" height="3.60" fill="#4ca851"/>
<rect x="724.56" y="561.88" width="1.0" height="28.75" fill="#afd0b0"/>
<rect x="722.76" y="567.50" width="4.6" height="22.88" fill="#3f8f48"/>
<rect x="723.46" y="568.20" width="3.20" height="21.48" fill="#4ca851"/>
<rect x="730.45" y="544.38" width="1.0" height="29.38" fill="#afd0b0"/>
<rect x="728.65" y="548.12" width="4.6" height="19.75" fill="#3f8f48"/>
<rect x="729.35" y="548.83" width="3.20" height="18.35" fill="#4ca851"/>
<rect x="736.33" y="524.38" width="1.0" height="37.50" fill="#afd0b0"/>
<rect x="734.53" y="535.25" width="4.6" height="16.88" fill="#3f8f48"/>
<rect x="735.23" y="535.95" width="3.20" height="15.47" fill="#4ca851"/>
<rect x="742.22" y="533.75" width="1.0" height="13.12" fill="#e0adad"/>
<rect x="740.42" y="534.38" width="4.6" height="3.12" fill="#b9302a"/>
<rect x="741.12" y="535.08" width="3.20" height="1.73" fill="#e63c2b"/>
<rect x="748.10" y="523.12" width="1.0" height="19.38" fill="#afd0b0"/>
<rect x="746.30" y="532.25" width="4.6" height="3.62" fill="#3f8f48"/>
<rect x="747.00" y="532.95" width="3.20" height="2.23" fill="#4ca851"/>
<rect x="753.99" y="521.88" width="1.0" height="13.12" fill="#afd0b0"/>
<rect x="752.19" y="522.50" width="4.6" height="12.12" fill="#3f8f48"/>
<rect x="752.89" y="523.20" width="3.20" height="10.72" fill="#4ca851"/>
<rect x="759.87" y="495.62" width="1.0" height="24.38" fill="#afd0b0"/>
<rect x="758.07" y="499.00" width="4.6" height="20.62" fill="#3f8f48"/>
<rect x="758.77" y="499.70" width="3.20" height="19.23" fill="#4ca851"/>
<rect x="765.75" y="496.25" width="1.0" height="75.62" fill="#e0adad"/>
<rect x="763.96" y="498.75" width="4.6" height="66.00" fill="#b9302a"/>
<rect x="764.66" y="499.45" width="3.20" height="64.60" fill="#e63c2b"/>
<rect x="771.64" y="545.62" width="1.0" height="18.75" fill="#e0adad"/>
<rect x="769.84" y="562.88" width="4.6" height="1.25" fill="#b9302a"/>
<rect x="777.52" y="550.62" width="1.0" height="16.88" fill="#afd0b0"/>
<rect x="775.73" y="560.88" width="4.6" height="1.20" fill="#3f8f48"/>
<rect x="783.41" y="530.62" width="1.0" height="31.25" fill="#afd0b0"/>
<rect x="781.61" y="533.75" width="4.6" height="27.50" fill="#3f8f48"/>
<rect x="782.31" y="534.45" width="3.20" height="26.10" fill="#4ca851"/>
<rect x="789.29" y="515.62" width="1.0" height="17.50" fill="#afd0b0"/>
<rect x="787.50" y="525.38" width="4.6" height="3.38" fill="#3f8f48"/>
<rect x="788.20" y="526.08" width="3.20" height="1.98" fill="#4ca851"/>
<rect x="795.18" y="519.38" width="1.0" height="21.25" fill="#e0adad"/>
<rect x="793.38" y="525.62" width="4.6" height="6.00" fill="#b9302a"/>
<rect x="794.08" y="526.33" width="3.20" height="4.60" fill="#e63c2b"/>
<rect x="801.06" y="510.00" width="1.0" height="25.00" fill="#afd0b0"/>
<rect x="799.26" y="515.25" width="4.6" height="16.25" fill="#3f8f48"/>
<rect x="799.97" y="515.95" width="3.20" height="14.85" fill="#4ca851"/>
<rect x="806.95" y="505.00" width="1.0" height="25.62" fill="#e0adad"/>
<rect x="805.15" y="515.00" width="4.6" height="1.20" fill="#b9302a"/>
<rect x="812.84" y="488.75" width="1.0" height="26.88" fill="#afd0b0"/>
<rect x="811.04" y="498.75" width="4.6" height="16.25" fill="#3f8f48"/>
<rect x="811.74" y="499.45" width="3.20" height="14.85" fill="#4ca851"/>
<rect x="818.72" y="492.50" width="1.0" height="25.00" fill="#afd0b0"/>
<rect x="816.92" y="495.88" width="4.6" height="5.62" fill="#3f8f48"/>
<rect x="817.62" y="496.57" width="3.20" height="4.22" fill="#4ca851"/>
<rect x="824.61" y="498.12" width="1.0" height="15.00" fill="#e0adad"/>
<rect x="822.81" y="504.75" width="4.6" height="7.75" fill="#b9302a"/>
<rect x="823.51" y="505.45" width="3.20" height="6.35" fill="#e63c2b"/>
<rect x="830.49" y="503.12" width="1.0" height="17.50" fill="#afd0b0"/>
<rect x="828.69" y="514.00" width="4.6" height="1.20" fill="#3f8f48"/>
<rect x="836.38" y="502.50" width="1.0" height="16.25" fill="#afd0b0"/>
<rect x="834.58" y="510.00" width="4.6" height="4.38" fill="#3f8f48"/>
<rect x="835.28" y="510.70" width="3.20" height="2.98" fill="#4ca851"/>
<rect x="842.26" y="462.50" width="1.0" height="51.25" fill="#afd0b0"/>
<rect x="840.46" y="468.12" width="4.6" height="42.50" fill="#3f8f48"/>
<rect x="841.16" y="468.82" width="3.20" height="41.10" fill="#4ca851"/>
<rect x="848.14" y="457.50" width="1.0" height="23.75" fill="#e0adad"/>
<rect x="846.35" y="464.12" width="4.6" height="6.50" fill="#b9302a"/>
<rect x="847.05" y="464.82" width="3.20" height="5.10" fill="#e63c2b"/>
<rect x="854.03" y="448.12" width="1.0" height="28.12" fill="#afd0b0"/>
<rect x="852.23" y="451.62" width="4.6" height="18.00" fill="#3f8f48"/>
<rect x="852.93" y="452.32" width="3.20" height="16.60" fill="#4ca851"/>
<rect x="859.91" y="449.38" width="1.0" height="30.62" fill="#e0adad"/>
<rect x="858.12" y="452.12" width="4.6" height="15.38" fill="#b9302a"/>
<rect x="858.82" y="452.82" width="3.20" height="13.97" fill="#e63c2b"/>
<rect x="865.80" y="426.25" width="1.0" height="38.75" fill="#afd0b0"/>
<rect x="864.00" y="430.88" width="4.6" height="30.62" fill="#3f8f48"/>
<rect x="864.70" y="431.57" width="3.20" height="29.23" fill="#4ca851"/>
<rect x="871.68" y="403.12" width="1.0" height="33.12" fill="#afd0b0"/>
<rect x="869.88" y="406.25" width="4.6" height="25.25" fill="#3f8f48"/>
<rect x="870.59" y="406.95" width="3.20" height="23.85" fill="#4ca851"/>
<rect x="877.57" y="402.50" width="1.0" height="23.75" fill="#e0adad"/>
<rect x="875.77" y="405.25" width="4.6" height="20.38" fill="#b9302a"/>
<rect x="876.47" y="405.95" width="3.20" height="18.98" fill="#e63c2b"/>
<rect x="883.46" y="418.75" width="1.0" height="48.75" fill="#e0adad"/>
<rect x="881.66" y="434.38" width="4.6" height="18.50" fill="#b9302a"/>
<rect x="882.36" y="435.07" width="3.20" height="17.10" fill="#e63c2b"/>
<rect x="889.34" y="450.00" width="1.0" height="20.00" fill="#e0adad"/>
<rect x="887.54" y="452.75" width="4.6" height="1.20" fill="#b9302a"/>
<rect x="895.23" y="446.25" width="1.0" height="41.25" fill="#afd0b0"/>
<rect x="893.43" y="449.12" width="4.6" height="9.62" fill="#3f8f48"/>
<rect x="894.13" y="449.82" width="3.20" height="8.22" fill="#4ca851"/>
<rect x="901.11" y="451.25" width="1.0" height="23.75" fill="#e0adad"/>
<rect x="899.31" y="455.00" width="4.6" height="2.50" fill="#b9302a"/>
<rect x="900.01" y="455.70" width="3.20" height="1.10" fill="#e63c2b"/>
<rect x="907.00" y="435.00" width="1.0" height="26.88" fill="#e0adad"/>
<rect x="905.20" y="451.25" width="4.6" height="6.25" fill="#b9302a"/>
<rect x="905.90" y="451.95" width="3.20" height="4.85" fill="#e63c2b"/>
<rect x="912.88" y="435.62" width="1.0" height="21.88" fill="#afd0b0"/>
<rect x="911.08" y="439.75" width="4.6" height="11.88" fill="#3f8f48"/>
<rect x="911.78" y="440.45" width="3.20" height="10.47" fill="#4ca851"/>
<rect x="918.76" y="404.38" width="1.0" height="40.62" fill="#afd0b0"/>
<rect x="916.97" y="406.25" width="4.6" height="33.38" fill="#3f8f48"/>
<rect x="917.67" y="406.95" width="3.20" height="31.98" fill="#4ca851"/>
<rect x="924.65" y="398.75" width="1.0" height="64.38" fill="#e0adad"/>
<rect x="922.85" y="401.88" width="4.6" height="39.75" fill="#b9302a"/>
<rect x="923.55" y="402.57" width="3.20" height="38.35" fill="#e63c2b"/>
<rect x="930.53" y="412.50" width="1.0" height="37.50" fill="#afd0b0"/>
<rect x="928.74" y="433.12" width="4.6" height="10.38" fill="#3f8f48"/>
<rect x="929.44" y="433.82" width="3.20" height="8.97" fill="#4ca851"/>
<rect x="936.42" y="415.00" width="1.0" height="24.38" fill="#e0adad"/>
<rect x="934.62" y="434.12" width="4.6" height="3.38" fill="#b9302a"/>
<rect x="935.32" y="434.82" width="3.20" height="1.98" fill="#e63c2b"/>
<rect x="942.30" y="435.62" width="1.0" height="38.12" fill="#e0adad"/>
<rect x="940.50" y="437.12" width="4.6" height="6.88" fill="#b9302a"/>
<rect x="941.21" y="437.82" width="3.20" height="5.47" fill="#e63c2b"/>
<rect x="948.19" y="440.62" width="1.0" height="21.25" fill="#afd0b0"/>
<rect x="946.39" y="443.50" width="4.6" height="4.00" fill="#3f8f48"/>
<rect x="947.09" y="444.20" width="3.20" height="2.60" fill="#4ca851"/>
<rect x="954.07" y="440.62" width="1.0" height="24.38" fill="#e0adad"/>
<rect x="952.27" y="443.50" width="4.6" height="5.62" fill="#b9302a"/>
<rect x="952.98" y="444.20" width="3.20" height="4.22" fill="#e63c2b"/>
<rect x="959.96" y="423.75" width="1.0" height="40.00" fill="#e0adad"/>
<rect x="958.16" y="444.38" width="4.6" height="5.25" fill="#b9302a"/>
<rect x="958.86" y="445.07" width="3.20" height="3.85" fill="#e63c2b"/>
<rect x="965.85" y="435.62" width="1.0" height="16.88" fill="#afd0b0"/>
<rect x="964.05" y="444.12" width="4.6" height="4.62" fill="#3f8f48"/>
<rect x="964.75" y="444.82" width="3.20" height="3.23" fill="#4ca851"/>
<rect x="971.73" y="429.38" width="1.0" height="25.62" fill="#afd0b0"/>
<rect x="969.93" y="433.75" width="4.6" height="6.88" fill="#3f8f48"/>
<rect x="970.63" y="434.45" width="3.20" height="5.47" fill="#4ca851"/>
<rect x="977.62" y="406.88" width="1.0" height="29.38" fill="#afd0b0"/>
<rect x="975.82" y="411.25" width="4.6" height="24.38" fill="#3f8f48"/>
<rect x="976.52" y="411.95" width="3.20" height="22.98" fill="#4ca851"/>
<rect x="983.50" y="391.25" width="1.0" height="20.62" fill="#afd0b0"/>
<rect x="981.70" y="405.38" width="4.6" height="4.38" fill="#3f8f48"/>
<rect x="982.40" y="406.07" width="3.20" height="2.98" fill="#4ca851"/>
<rect x="989.38" y="396.25" width="1.0" height="13.12" fill="#afd0b0"/>
<rect x="987.59" y="400.88" width="4.6" height="1.20" fill="#3f8f48"/>
<rect x="995.27" y="395.62" width="1.0" height="13.75" fill="#afd0b0"/>
<rect x="993.47" y="398.75" width="4.6" height="4.38" fill="#3f8f48"/>
<rect x="994.17" y="399.45" width="3.20" height="2.98" fill="#4ca851"/>
<rect x="1001.15" y="400.00" width="1.0" height="14.38" fill="#e0adad"/>
<rect x="999.36" y="400.38" width="4.6" height="4.25" fill="#b9302a"/>
<rect x="1000.06" y="401.07" width="3.20" height="2.85" fill="#e63c2b"/>
<rect x="1007.04" y="378.12" width="1.0" height="22.50" fill="#afd0b0"/>
<rect x="1005.24" y="381.00" width="4.6" height="18.62" fill="#3f8f48"/>
<rect x="1005.94" y="381.70" width="3.20" height="17.23" fill="#4ca851"/>
<rect x="1012.92" y="376.88" width="1.0" height="11.88" fill="#afd0b0"/>
<rect x="1011.12" y="378.12" width="4.6" height="1.62" fill="#3f8f48"/>
<rect x="1018.81" y="374.38" width="1.0" height="12.50" fill="#afd0b0"/>
<rect x="1017.01" y="375.00" width="4.6" height="1.20" fill="#3f8f48"/>
<rect x="1024.69" y="378.75" width="1.0" height="20.00" fill="#e0adad"/>
<rect x="1022.89" y="379.38" width="4.6" height="6.25" fill="#b9302a"/>
<rect x="1023.60" y="380.07" width="3.20" height="4.85" fill="#e63c2b"/>
<rect x="1030.58" y="366.90" width="1.0" height="23.10" fill="#afd0b0"/>
<rect x="1028.78" y="367.25" width="4.6" height="17.75" fill="#3f8f48"/>
<rect x="1029.48" y="367.95" width="3.20" height="16.35" fill="#4ca851"/>
<rect x="1036.46" y="360.00" width="1.0" height="15.60" fill="#afd0b0"/>
<rect x="1034.66" y="360.60" width="4.6" height="8.15" fill="#3f8f48"/>
<rect x="1035.37" y="361.30" width="3.20" height="6.75" fill="#4ca851"/>
<rect x="1042.35" y="310.60" width="1.0" height="58.80" fill="#afd0b0"/>
<rect x="1040.55" y="313.10" width="4.6" height="55.65" fill="#3f8f48"/>
<rect x="1041.25" y="313.80" width="3.20" height="54.25" fill="#4ca851"/>
<rect x="1048.23" y="283.10" width="1.0" height="46.90" fill="#e0adad"/>
<rect x="1046.43" y="307.10" width="4.6" height="21.65" fill="#b9302a"/>
<rect x="1047.13" y="307.80" width="3.20" height="20.25" fill="#e63c2b"/>
<rect x="1054.12" y="311.25" width="1.0" height="28.75" fill="#afd0b0"/>
<rect x="1052.32" y="315.00" width="4.6" height="15.60" fill="#3f8f48"/>
<rect x="1053.02" y="315.70" width="3.20" height="14.20" fill="#4ca851"/>
<rect x="1060.00" y="306.25" width="1.0" height="31.85" fill="#afd0b0"/>
<rect x="1058.20" y="322.25" width="4.6" height="12.75" fill="#3f8f48"/>
<rect x="1058.90" y="322.95" width="3.20" height="11.35" fill="#4ca851"/>
<rect x="1065.89" y="320.60" width="1.0" height="114.40" fill="#e0adad"/>
<rect x="1064.09" y="340.40" width="4.6" height="78.10" fill="#b9302a"/>
<rect x="1064.79" y="341.10" width="3.20" height="76.70" fill="#e63c2b"/>
<rect x="1071.77" y="311.90" width="1.0" height="103.70" fill="#afd0b0"/>
<rect x="1069.97" y="358.10" width="4.6" height="57.50" fill="#3f8f48"/>
<rect x="1070.67" y="358.80" width="3.20" height="56.10" fill="#4ca851"/>
<rect x="1077.66" y="371.25" width="1.0" height="177.50" fill="#e0adad"/>
<rect x="1075.86" y="418.10" width="4.6" height="50.65" fill="#b9302a"/>
<rect x="1076.56" y="418.80" width="3.20" height="49.25" fill="#e63c2b"/>
<rect x="1083.54" y="469.40" width="1.0" height="124.35" fill="#e0adad"/>
<rect x="1081.74" y="537.50" width="4.6" height="50.00" fill="#b9302a"/>
<rect x="1082.44" y="538.20" width="3.20" height="48.60" fill="#e63c2b"/>
<rect x="1089.43" y="468.00" width="1.0" height="187.00" fill="#afd0b0"/>
<rect x="1087.63" y="493.10" width="4.6" height="93.80" fill="#3f8f48"/>
<rect x="1088.33" y="493.80" width="3.20" height="92.40" fill="#4ca851"/>
<rect x="1095.31" y="435.00" width="1.0" height="80.00" fill="#afd0b0"/>
<rect x="1093.51" y="475.00" width="4.6" height="8.75" fill="#3f8f48"/>
<rect x="1094.21" y="475.70" width="3.20" height="7.35" fill="#4ca851"/>
<rect x="1101.20" y="373.00" width="1.0" height="79.50" fill="#afd0b0"/>
<rect x="1099.40" y="377.75" width="4.6" height="61.65" fill="#3f8f48"/>
<rect x="1100.10" y="378.45" width="3.20" height="60.25" fill="#4ca851"/>
<rect x="1107.08" y="348.10" width="1.0" height="69.90" fill="#afd0b0"/>
<rect x="1105.28" y="352.10" width="4.6" height="45.40" fill="#3f8f48"/>
<rect x="1105.98" y="352.80" width="3.20" height="44.00" fill="#4ca851"/>
<rect x="1112.97" y="355.00" width="1.0" height="62.00" fill="#e0adad"/>
<rect x="1111.17" y="363.75" width="4.6" height="31.85" fill="#b9302a"/>
<rect x="1111.87" y="364.45" width="3.20" height="30.45" fill="#e63c2b"/>
<rect x="1118.85" y="328.00" width="1.0" height="66.40" fill="#e0adad"/>
<rect x="1117.05" y="384.40" width="4.6" height="3.50" fill="#b9302a"/>
<rect x="1117.75" y="385.10" width="3.20" height="2.10" fill="#e63c2b"/>
<rect x="1124.74" y="363.00" width="1.0" height="42.60" fill="#afd0b0"/>
<rect x="1122.94" y="381.00" width="4.6" height="13.00" fill="#3f8f48"/>
<rect x="1123.64" y="381.70" width="3.20" height="11.60" fill="#4ca851"/>
<rect x="1130.62" y="345.00" width="1.0" height="48.00" fill="#afd0b0"/>
<rect x="1128.82" y="346.25" width="4.6" height="46.50" fill="#3f8f48"/>
<rect x="1129.52" y="346.95" width="3.20" height="45.10" fill="#4ca851"/>
<rect x="1136.51" y="316.25" width="1.0" height="27.50" fill="#afd0b0"/>
<rect x="1134.71" y="321.90" width="4.6" height="2.85" fill="#3f8f48"/>
<rect x="1135.41" y="322.60" width="3.20" height="1.45" fill="#4ca851"/>
<rect x="1142.39" y="291.25" width="1.0" height="39.35" fill="#afd0b0"/>
<rect x="1140.60" y="297.10" width="4.6" height="1.20" fill="#3f8f48"/>
<rect x="1148.28" y="280.00" width="1.0" height="41.25" fill="#afd0b0"/>
<rect x="1146.48" y="286.90" width="4.6" height="4.10" fill="#3f8f48"/>
<rect x="1147.18" y="287.60" width="3.20" height="2.70" fill="#4ca851"/>
<rect x="1154.16" y="271.90" width="1.0" height="20.60" fill="#afd0b0"/>
<rect x="1152.37" y="285.40" width="4.6" height="5.20" fill="#3f8f48"/>
<rect x="1153.07" y="286.10" width="3.20" height="3.80" fill="#4ca851"/>
</g>
<rect x="8" y="2" width="1" height="1007" fill="#3b3b45"/>
<rect x="8" y="1.8" width="1584" height="1" fill="#6b6b6e"/>
<rect x="1591" y="2" width="1.2" height="1007" fill="#2b2b36"/>
<rect x="8" y="1007.6" width="1584.2" height="1.5" fill="#15151a"/>
<rect x="1521" y="2.5" width="1" height="1005.5" fill="#77777c"/>
<rect x="1522" y="56.00" width="4.5" height="1" fill="#8a8a8e"/>
<text class="pl" x="1532.3" y="62.50">150.00</text>
<rect x="1522" y="132.36" width="4.5" height="1" fill="#8a8a8e"/>
<text class="pl" x="1532.3" y="138.86">140.00</text>
<rect x="1522" y="208.72" width="4.5" height="1" fill="#8a8a8e"/>
<text class="pl" x="1532.3" y="215.22">130.00</text>
<rect x="1522" y="285.08" width="4.5" height="1" fill="#8a8a8e"/>
<text class="pl" x="1532.3" y="291.58">120.00</text>
<rect x="1522" y="361.44" width="4.5" height="1" fill="#8a8a8e"/>
<text class="pl" x="1532.3" y="367.94">110.00</text>
<rect x="1522" y="437.80" width="4.5" height="1" fill="#8a8a8e"/>
<text class="pl" x="1532.3" y="444.30">100.00</text>
<rect x="1522" y="514.16" width="4.5" height="1" fill="#8a8a8e"/>
<text class="pl" x="1532.3" y="520.66">90.00</text>
<rect x="1522" y="590.52" width="4.5" height="1" fill="#8a8a8e"/>
<text class="pl" x="1532.3" y="597.02">80.00</text>
<rect x="1522" y="666.88" width="4.5" height="1" fill="#8a8a8e"/>
<text class="pl" x="1532.3" y="673.38">70.00</text>
<rect x="1522" y="743.24" width="4.5" height="1" fill="#8a8a8e"/>
<text class="pl" x="1532.3" y="749.74">60.00</text>
<rect x="1522" y="819.60" width="4.5" height="1" fill="#8a8a8e"/>
<text class="pl" x="1532.3" y="826.10">50.00</text>
<rect x="1522" y="895.96" width="4.5" height="1" fill="#8a8a8e"/>
<text class="pl" x="1532.3" y="902.46">40.00</text>
<rect x="100.75" y="971" width="1" height="4" fill="#9a9a9e"/>
<text class="tl yr" x="100.95" y="995.5">2017</text>
<rect x="230.22" y="971" width="1" height="4" fill="#9a9a9e"/>
<text class="tl" x="230.12" y="995.5">Jun</text>
<rect x="406.77" y="971" width="1" height="4" fill="#9a9a9e"/>
<text class="tl yr" x="406.97" y="995.5">2018</text>
<rect x="512.70" y="971" width="1" height="4" fill="#9a9a9e"/>
<text class="tl" x="512.60" y="995.5">May</text>
<rect x="718.67" y="971" width="1" height="4" fill="#9a9a9e"/>
<text class="tl yr" x="718.88" y="995.5">2019</text>
<rect x="842.26" y="971" width="1" height="4" fill="#9a9a9e"/>
<text class="tl" x="842.16" y="995.5">Jun</text>
<rect x="1024.69" y="971" width="1" height="4" fill="#9a9a9e"/>
<text class="tl yr" x="1024.89" y="995.5">2020</text>
<rect x="1148.28" y="971" width="1" height="4" fill="#9a9a9e"/>
<text class="tl" x="1148.18" y="995.5">Jun</text>
<rect x="1330.71" y="971" width="1" height="4" fill="#9a9a9e"/>
<text class="tl yr" x="1330.91" y="995.5">2021</text>
<rect x="1460.18" y="971" width="1" height="4" fill="#9a9a9e"/>
<text class="tl" x="1460.09" y="995.5">Jun</text>
<rect x="1521.3" y="274" width="68.9" height="22.2" fill="#000"/>
<rect x="1521.5" y="284.8" width="4.8" height="1" fill="#fff"/>
<text class="bx" x="1532.3" y="290.4">120.12</text>
<rect x="1535.3" y="298.1" width="54.9" height="21.9" fill="#000"/>
<text class="bx" x="1540.6" y="313.8">3d 0h</text>
<text class="ttl" x="19.6" y="29">NASDAQ INC, 1W, Cboe BZX</text>
<text class="sub" x="19.6" y="52.4">Vol (20)</text>
<g id="logo">
<circle cx="39.7" cy="940.9" r="21.7" fill="#7a6a6a" opacity="0.28"/>
<circle cx="39.7" cy="940.7" r="20.8" fill="#ffffff"/>
<path d="M28.6,948 C26.6,948 25.3,946.6 25.3,944.7 C25.3,941.4 27.2,938.6 30.1,937.9 C30.8,937.7 31.4,937.6 31.9,937.5 C32.2,934.4 34.4,932 37.3,932 C40.6,932 43.6,934.2 44.9,936.9 C45.8,936.3 46.8,936 47.9,936 C51.3,936 53.8,939.2 53.8,942.7 C53.8,945.8 52.2,948 50.2,948 Z" fill="#2b90dd"/>
<polyline points="24.4,945.5 35.9,936.4 42.8,945.0 51.6,936.5" fill="none" stroke="#ffffff" stroke-width="1.4" stroke-linejoin="miter"/>
<rect x="41.3" y="943.5" width="3.1" height="3.1" rx="0.6" fill="#ffffff"/>
<path d="M34.5,937.5 L35.9,935.0 L37.5,937.6 Z" fill="#ffffff"/>
</g>
<circle cx="22.2" cy="1031" r="8.1" fill="#2381d6"/>
</svg></body></html>
